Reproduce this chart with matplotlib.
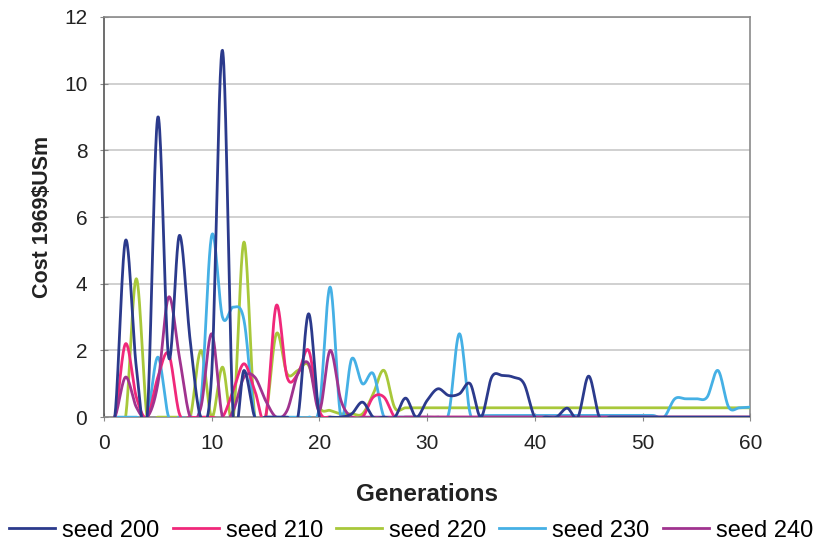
import numpy as np
import matplotlib
matplotlib.use("Agg")
import matplotlib.pyplot as plt

plt.rcParams["font.family"] = ["Liberation Sans", "DejaVu Sans"]

# Generations 1..60 and the cost of the best design per generation (1969 $US m)
generations = list(range(1, 61))

seed_200 = [0, 5.3, 1.5, 0, 9.0, 1.8, 5.45, 2.3, 0, 1.3,
            11.0, 0, 1.4, 0, 0, 0, 0, 0, 3.1, 0,
            0, 0, 0.1, 0.45, 0, 0, 0, 0.57, 0, 0.5,
            0.85, 0.65, 0.7, 1.0, 0, 1.2, 1.25, 1.2, 1.0, 0,
            0, 0, 0.27, 0, 1.23, 0, 0, 0, 0, 0,
            0, 0, 0, 0, 0, 0, 0, 0, 0, 0]

seed_210 = [0, 2.2, 0.6, 0, 1.2, 1.9, 0.1, 0, 0, 0,
            0, 0.8, 1.6, 0.8, 0, 3.35, 1.2, 1.3, 2.0, 0.2,
            0, 0, 0, 0, 0.6, 0.6, 0, 0, 0, 0,
            0, 0, 0, 0, 0, 0, 0, 0, 0, 0,
            0, 0, 0, 0, 0, 0, 0, 0, 0, 0,
            0, 0, 0, 0, 0, 0, 0, 0, 0, 0]

seed_220 = [0, 0, 4.15, 0, 0, 0, 0, 0, 2.0, 0,
            1.5, 0, 5.25, 0, 0, 2.5, 1.3, 1.4, 1.55, 0.3,
            0.2, 0.1, 0.1, 0.1, 0.7, 1.4, 0.28, 0.28, 0.28, 0.28,
            0.28, 0.28, 0.28, 0.28, 0.28, 0.28, 0.28, 0.28, 0.28, 0.28,
            0.28, 0.28, 0.28, 0.28, 0.28, 0.28, 0.28, 0.28, 0.28, 0.28,
            0.28, 0.28, 0.28, 0.28, 0.28, 0.28, 0.28, 0.28, 0.28, 0.28]

seed_230 = [0, 0, 0, 0, 1.8, 0, 0, 0, 0.5, 5.45,
            3.0, 3.3, 2.9, 0, 0, 0, 0, 0, 0, 0.3,
            3.9, 0, 1.75, 1.0, 1.3, 0, 0, 0, 0, 0,
            0, 0.1, 2.5, 0.1, 0.05, 0.05, 0.05, 0.05, 0.05, 0.05,
            0.05, 0.05, 0.05, 0.05, 0.05, 0.05, 0.05, 0.05, 0.05, 0.05,
            0.05, 0, 0.55, 0.55, 0.55, 0.6, 1.4, 0.3, 0.28, 0.3]

seed_240 = [0, 1.2, 0.3, 0, 1.0, 3.6, 1.8, 0, 0.3, 2.5,
            0, 0.2, 1.2, 1.2, 0.5, 0, 0.2, 1.3, 1.6, 0.2,
            2.0, 0.5, 0, 0, 0, 0, 0, 0, 0, 0,
            0, 0, 0, 0, 0, 0, 0, 0, 0, 0,
            0, 0, 0, 0, 0, 0, 0, 0, 0, 0,
            0, 0, 0, 0, 0, 0, 0, 0, 0, 0]

labels = ["seed 200", "seed 210", "seed 220", "seed 230", "seed 240"]
colors = ["#2b3a8c", "#f0287a", "#a8c83a", "#45b0e5", "#a0338f"]


def smooth(x, y, n=24):
    """Catmull-Rom spline through the points (spreadsheet-style smoothed line)."""
    x = np.asarray(x, float)
    y = np.asarray(y, float)
    px = np.concatenate([[2 * x[0] - x[1]], x, [2 * x[-1] - x[-2]]])
    py = np.concatenate([[y[0]], y, [y[-1]]])
    xs, ys = [], []
    t = np.linspace(0, 1, n, endpoint=False)
    for i in range(1, len(px) - 2):
        p0, p1, p2, p3 = py[i - 1], py[i], py[i + 1], py[i + 2]
        q0, q1, q2, q3 = px[i - 1], px[i], px[i + 1], px[i + 2]
        t2, t3 = t * t, t * t * t
        ys.append(0.5 * (2 * p1 + (-p0 + p2) * t + (2 * p0 - 5 * p1 + 4 * p2 - p3) * t2
                         + (-p0 + 3 * p1 - 3 * p2 + p3) * t3))
        xs.append(0.5 * (2 * q1 + (-q0 + q2) * t + (2 * q0 - 5 * q1 + 4 * q2 - q3) * t2
                         + (-q0 + 3 * q1 - 3 * q2 + q3) * t3))
    xs.append([x[-1]])
    ys.append([y[-1]])
    return np.concatenate(xs), np.concatenate(ys)


fig = plt.figure(figsize=(8.19, 5.46), dpi=100)
ax = fig.add_axes([0.127, 0.236, 0.789, 0.733])

series = [seed_200, seed_210, seed_220, seed_230, seed_240]
draw_order = [2, 3, 1, 4, 0]
handles = {}
for i in draw_order:
    sx, sy = smooth(generations, series[i])
    (h,) = ax.plot(sx, sy, color=colors[i], lw=2.0, label=labels[i], zorder=3 + (i == 0))
    handles[i] = h

ax.set_xlim(0, 60)
ax.set_ylim(0, 12)
ax.set_xticks(range(0, 61, 10))
ax.set_yticks(range(0, 13, 2))
ax.yaxis.grid(True, color="#c8c8c8", lw=1.2)
ax.set_axisbelow(True)
for side in ["top", "right", "bottom", "left"]:
    ax.spines[side].set_color("#8a8a8a")
    ax.spines[side].set_linewidth(1.2)
ax.spines["left"].set_color("#555555")
ax.tick_params(axis="both", labelsize=15, colors="#8a8a8a", labelcolor="#222222",
               direction="inout", length=6, pad=9)

ax.set_xlabel("Generations", fontsize=17.5, fontweight="bold", color="#222222", labelpad=22)
ax.set_ylabel("Cost 1969$USm", fontsize=15.5, fontweight="bold", color="#222222", labelpad=8)

fig.legend([handles[i] for i in range(5)], labels, loc="center",
           bbox_to_anchor=(0.502, 0.028), ncol=5, frameon=False, fontsize=17,
           handlelength=1.95, columnspacing=0.55, handletextpad=0.3,
           borderpad=0, borderaxespad=0)

fig.savefig("out.png", dpi=100)
